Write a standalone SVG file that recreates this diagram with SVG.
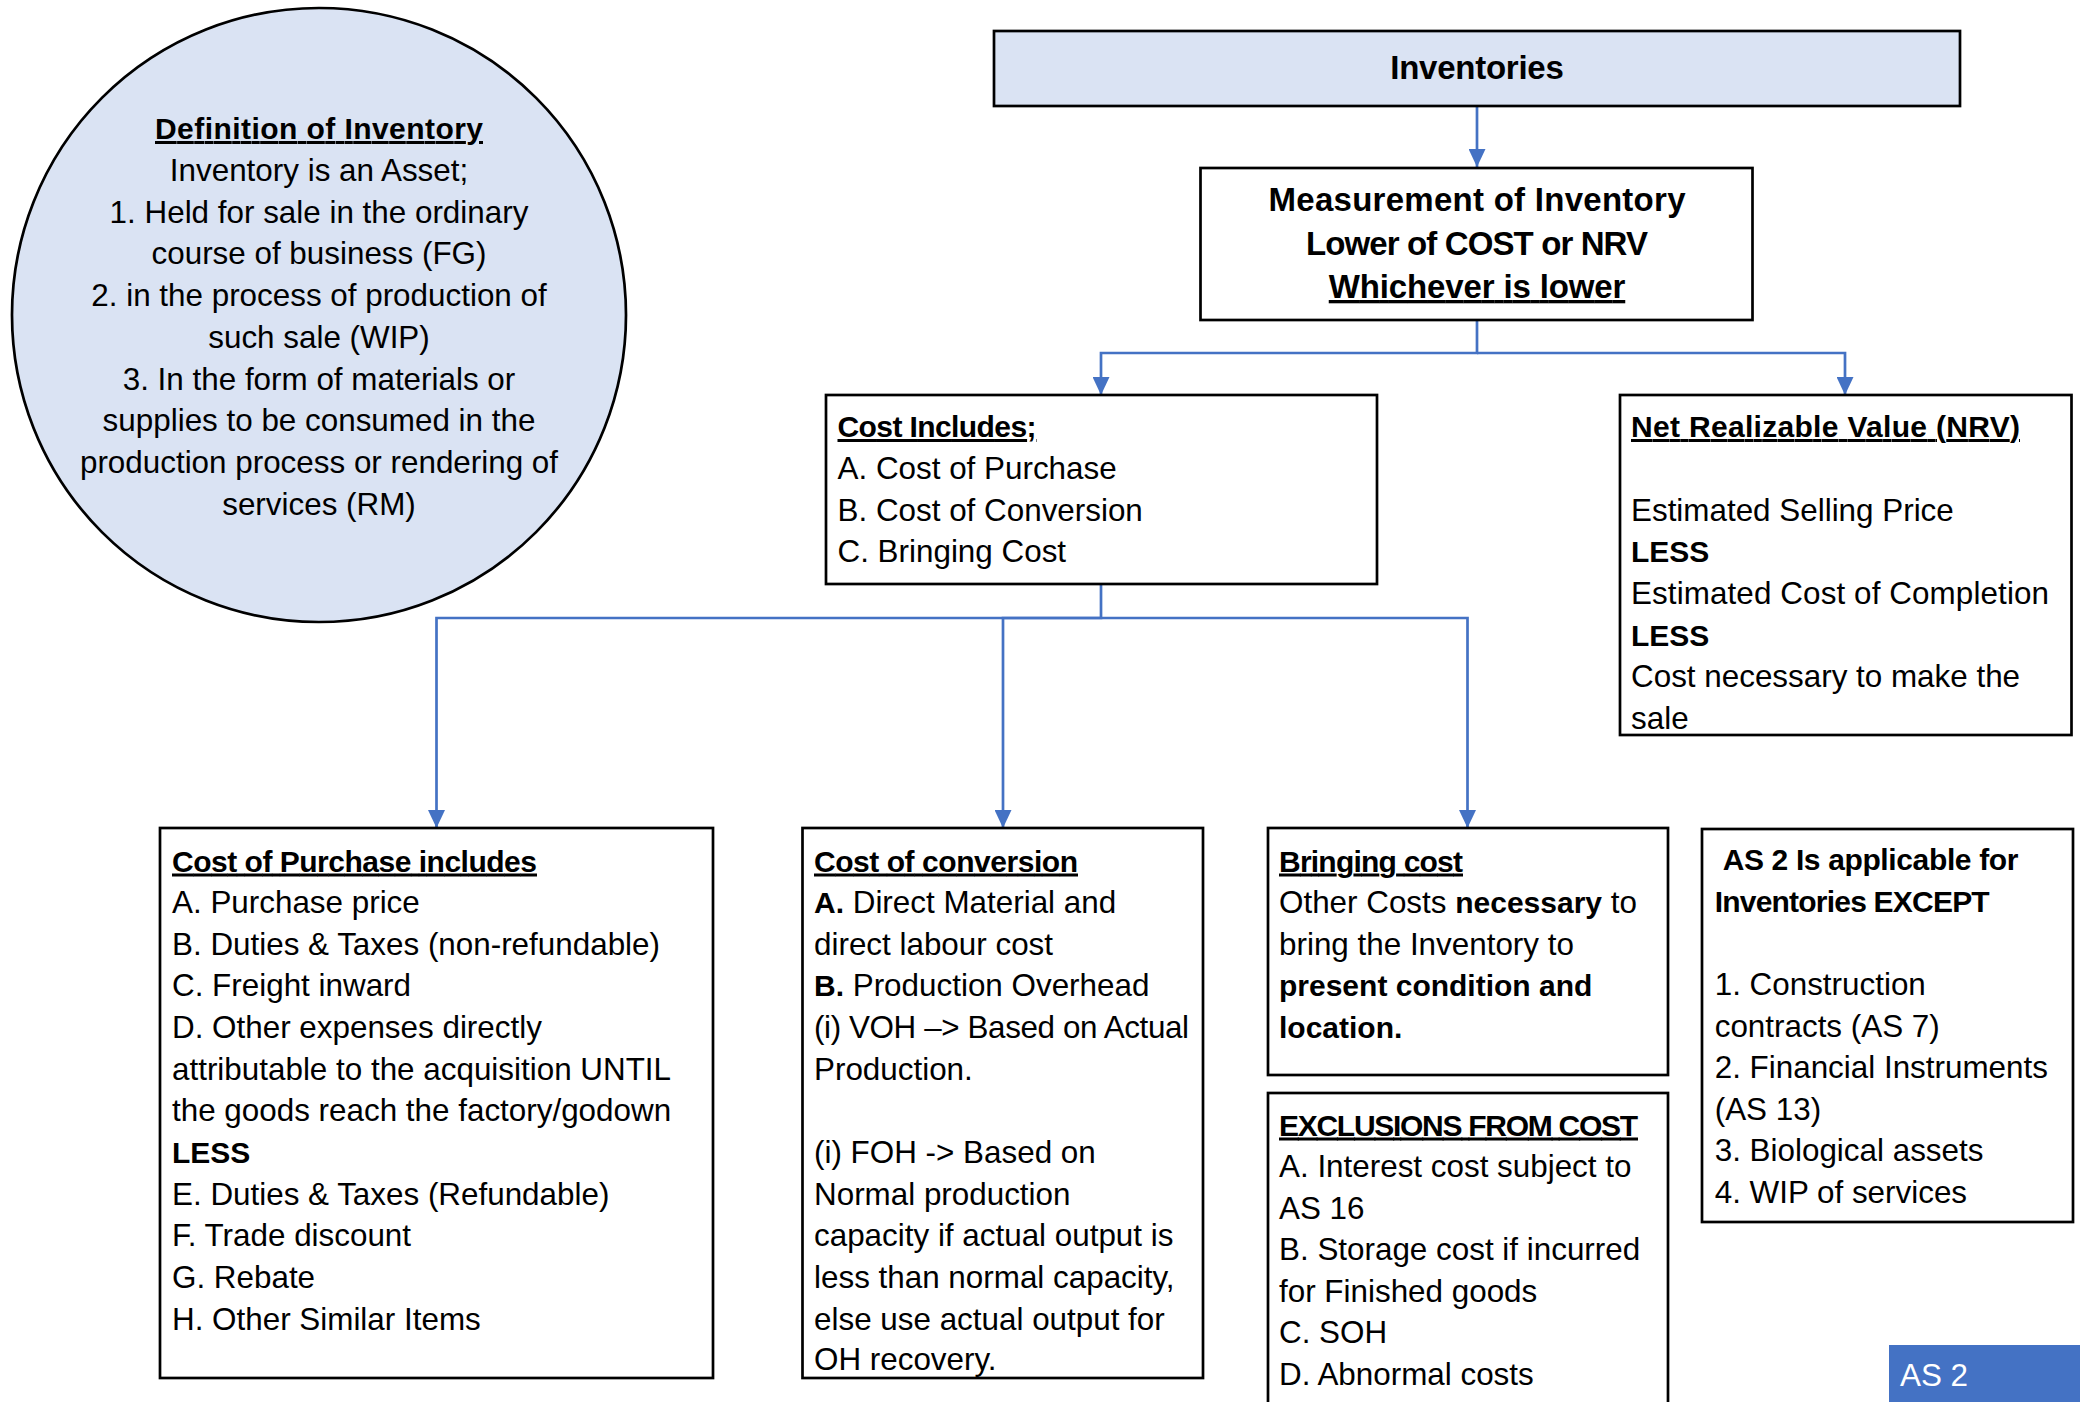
<svg xmlns="http://www.w3.org/2000/svg" width="2080" height="1402" viewBox="0 0 2080 1402">
  <defs>
    <style>
      .box { fill: #ffffff; stroke: #000000; stroke-width: 2.7; }
      .fill { fill: #DAE3F3; }
      .t { font-family: "Liberation Sans", Arial, sans-serif; font-size: 31.4px; fill: #000000; }
      .b { font-weight: bold; font-size: 30px; }
      .h { font-family: "Liberation Sans", Arial, sans-serif; font-weight: bold; font-size: 33px; fill: #000000; }
      .u { text-decoration: underline; }
      .mid { text-anchor: middle; }
      .conn { fill: none; stroke: #4472C4; stroke-width: 2.7; }
    </style>
    <marker id="arrow" viewBox="0 0 18 17" refX="18" refY="8.5" markerWidth="18" markerHeight="17" markerUnits="userSpaceOnUse" orient="auto">
      <path d="M0,0 L18,8.5 L0,17 Z" fill="#4472C4"/>
    </marker>
  </defs>

  <rect width="2080" height="1402" fill="#ffffff"/>

  <!-- Connectors -->
  <g id="connectors">
    <path class="conn" d="M1477,106 V167" marker-end="url(#arrow)"/>
    <path class="conn" d="M1477,320 V353 H1101 V395" marker-end="url(#arrow)"/>
    <path class="conn" d="M1477,353 H1845 V395" marker-end="url(#arrow)"/>
    <path class="conn" d="M1101,584 V618 H436.5 V828" marker-end="url(#arrow)"/>
    <path class="conn" d="M1101,618 H1003 V828" marker-end="url(#arrow)"/>
    <path class="conn" d="M1101,618 H1467.5 V828" marker-end="url(#arrow)"/>
  </g>

  <!-- Definition circle -->
  <g id="definition">
    <circle class="box fill" cx="319" cy="315" r="307"/>
    <text class="t mid" x="319" y="139"><tspan class="b u" textLength="328">Definition of Inventory</tspan></text>
    <text class="t mid" x="319" y="180.75">Inventory is an Asset;</text>
    <text class="t mid" x="319" y="222.5">1. Held for sale in the ordinary</text>
    <text class="t mid" x="319" y="264.25">course of business (FG)</text>
    <text class="t mid" x="319" y="306">2. in the process of production of</text>
    <text class="t mid" x="319" y="347.75">such sale (WIP)</text>
    <text class="t mid" x="319" y="389.5">3. In the form of materials or</text>
    <text class="t mid" x="319" y="431.25">supplies to be consumed in the</text>
    <text class="t mid" x="319" y="473">production process or rendering of</text>
    <text class="t mid" x="319" y="514.75">services (RM)</text>
  </g>

  <!-- Inventories -->
  <g id="inventories">
    <rect class="box fill" x="994" y="31" width="966" height="75"/>
    <text class="h mid" x="1477" y="79" textLength="173.5">Inventories</text>
  </g>

  <!-- Measurement of inventory -->
  <g id="measurement">
    <rect class="box" x="1200.5" y="168" width="552" height="152"/>
    <text class="h mid" x="1477" y="211" textLength="417">Measurement of Inventory</text>
    <text class="h mid" x="1477" y="254.5" textLength="342">Lower of COST or NRV</text>
    <text class="h mid u" x="1477" y="298" textLength="296.5">Whichever is lower</text>
  </g>

  <!-- Cost includes -->
  <g id="cost-includes">
    <rect class="box" x="826" y="395" width="551" height="189"/>
    <text class="t b u" x="837.5" y="437" textLength="199">Cost Includes;</text>
    <text class="t" x="837.5" y="479">A. Cost of Purchase</text>
    <text class="t" x="837.5" y="520.5">B. Cost of Conversion</text>
    <text class="t" x="837.5" y="562">C. Bringing Cost</text>
  </g>

  <!-- Net realizable value -->
  <g id="nrv">
    <rect class="box" x="1620" y="395" width="451.5" height="340"/>
    <text class="t b u" x="1631" y="437" textLength="389">Net Realizable Value (NRV)</text>
    <text class="t" x="1631" y="520.5">Estimated Selling Price</text>
    <text class="t b" x="1631" y="562">LESS</text>
    <text class="t" x="1631" y="604" textLength="418">Estimated Cost of Completion</text>
    <text class="t b" x="1631" y="645.5">LESS</text>
    <text class="t" x="1631" y="687">Cost necessary to make the</text>
    <text class="t" x="1631" y="729">sale</text>
  </g>

  <!-- Cost of purchase -->
  <g id="cost-of-purchase">
    <rect class="box" x="160" y="828" width="553" height="550"/>
    <text class="t b u" x="172" y="871.5" textLength="365">Cost of Purchase includes</text>
    <text class="t" x="172" y="913.15">A. Purchase price</text>
    <text class="t" x="172" y="954.8">B. Duties &amp; Taxes (non-refundable)</text>
    <text class="t" x="172" y="996.45">C. Freight inward</text>
    <text class="t" x="172" y="1038.1">D. Other expenses directly</text>
    <text class="t" x="172" y="1079.75">attributable to the acquisition UNTIL</text>
    <text class="t" x="172" y="1121.4">the goods reach the factory/godown</text>
    <text class="t b" x="172" y="1163.05">LESS</text>
    <text class="t" x="172" y="1204.7">E. Duties &amp; Taxes (Refundable)</text>
    <text class="t" x="172" y="1246.35">F. Trade discount</text>
    <text class="t" x="172" y="1288">G. Rebate</text>
    <text class="t" x="172" y="1329.65">H. Other Similar Items</text>
  </g>

  <!-- Cost of conversion -->
  <g id="cost-of-conversion">
    <rect class="box" x="802.5" y="828" width="400.5" height="550"/>
    <text class="t b u" x="814" y="871.5" textLength="264">Cost of conversion</text>
    <text class="t" x="814" y="913.15"><tspan class="b">A.</tspan> Direct Material and</text>
    <text class="t" x="814" y="954.8">direct labour cost</text>
    <text class="t" x="814" y="996.45"><tspan class="b">B.</tspan> Production Overhead</text>
    <text class="t" x="814" y="1038.1" textLength="375">(i) VOH –&gt; Based on Actual</text>
    <text class="t" x="814" y="1079.75">Production.</text>
    <text class="t" x="814" y="1163.05">(i) FOH -&gt; Based on</text>
    <text class="t" x="814" y="1204.7">Normal production</text>
    <text class="t" x="814" y="1246.35">capacity if actual output is</text>
    <text class="t" x="814" y="1288">less than normal capacity,</text>
    <text class="t" x="814" y="1329.65">else use actual output for</text>
    <text class="t" x="814" y="1369.5">OH recovery.</text>
  </g>

  <!-- Bringing cost -->
  <g id="bringing-cost">
    <rect class="box" x="1268" y="828" width="400" height="247"/>
    <text class="t b u" x="1279" y="871.5" textLength="184">Bringing cost</text>
    <text class="t" x="1279" y="913.15">Other Costs <tspan class="b">necessary</tspan> to</text>
    <text class="t" x="1279" y="954.8">bring the Inventory to</text>
    <text class="t b" x="1279" y="996.45">present condition and</text>
    <text class="t b" x="1279" y="1038.1">location.</text>
  </g>

  <!-- Exclusions from cost -->
  <g id="exclusions">
    <rect class="box" x="1268" y="1093" width="400" height="330"/>
    <text class="t b u" x="1279" y="1135.5" textLength="359">EXCLUSIONS FROM COST</text>
    <text class="t" x="1279" y="1177">A. Interest cost subject to</text>
    <text class="t" x="1279" y="1218.5">AS 16</text>
    <text class="t" x="1279" y="1260">B. Storage cost if incurred</text>
    <text class="t" x="1279" y="1301.5">for Finished goods</text>
    <text class="t" x="1279" y="1343">C. SOH</text>
    <text class="t" x="1279" y="1384.5">D. Abnormal costs</text>
  </g>

  <!-- Scope exceptions -->
  <g id="as2-scope">
    <rect class="box" x="1702" y="829" width="371" height="393"/>
    <text class="t b" x="1722.7" y="870.4" textLength="295.7">AS 2 Is applicable for</text>
    <text class="t b" x="1714.7" y="912" textLength="275">Inventories EXCEPT</text>
    <text class="t" x="1714.7" y="995">1. Construction</text>
    <text class="t" x="1714.7" y="1036.5">contracts (AS 7)</text>
    <text class="t" x="1714.7" y="1078">2. Financial Instruments</text>
    <text class="t" x="1714.7" y="1119.5">(AS 13)</text>
    <text class="t" x="1714.7" y="1161">3. Biological assets</text>
    <text class="t" x="1714.7" y="1202.6">4. WIP of services</text>
  </g>

  <!-- Standard tab -->
  <g id="as2-tab">
    <rect x="1889" y="1345" width="200" height="60" fill="#4472C4"/>
    <text class="t" x="1900" y="1386" style="fill:#ffffff">AS 2</text>
  </g>
</svg>
